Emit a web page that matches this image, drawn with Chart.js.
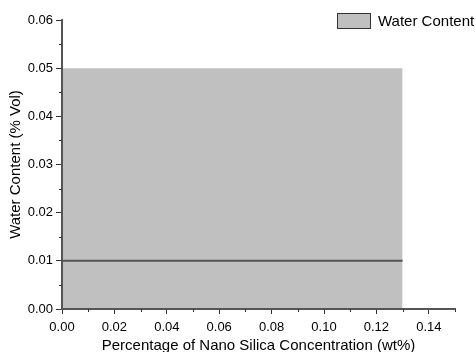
<!DOCTYPE html>
<html>
<head>
<meta charset="utf-8">
<script src="https://cdn.jsdelivr.net/npm/chart.js@4/dist/chart.umd.min.js"></script>
<style>
html,body{margin:0;padding:0;background:#fff;}
#wrap{width:476px;height:352px;position:relative;}
</style>
</head>
<body>
<div id="wrap"><canvas id="c" width="476" height="352"></canvas></div>
<script>
// Data
const concentration = [0.00, 0.13];          // x extent (wt%)
const waterContent = [0.01, 0.01];           // Water Content line (% Vol)
const waterContentBand = [0.05, 0.05];       // upper edge of the shaded area
const xTickValues = [0.00, 0.02, 0.04, 0.06, 0.08, 0.10, 0.12, 0.14];
const yTickValues = [0.00, 0.01, 0.02, 0.03, 0.04, 0.05, 0.06];
const seriesLabel = 'Water Content';
const xTitle = 'Percentage of Nano Silica Concentration (wt%)';
const yTitle = 'Water Content (% Vol)';

const FONT = "'Liberation Sans', Arial, sans-serif";

const minorTicks = {
  id: 'minorTicks',
  afterDraw(chart) {
    const ctx = chart.ctx;
    const xs = chart.scales.x, ys = chart.scales.y;
    ctx.save();
    ctx.strokeStyle = '#333';
    ctx.lineWidth = 1;
    ctx.beginPath();
    for (let i = 0; i < xTickValues.length; i++) {
      const v = xTickValues[i] + 0.01;
      if (v > xs.max + 1e-9) break;
      const px = Math.round(xs.getPixelForValue(v)) + 0.5;
      ctx.moveTo(px, xs.top);
      ctx.lineTo(px, xs.top + 3);
    }
    for (let i = 0; i < yTickValues.length; i++) {
      const v = yTickValues[i] + 0.005;
      if (v > ys.max + 1e-9) break;
      const py = Math.round(ys.getPixelForValue(v)) + 0.5;
      ctx.moveTo(ys.right, py);
      ctx.lineTo(ys.right - 3, py);
    }
    ctx.stroke();
    ctx.restore();
  }
};

const customLegend = {
  id: 'customLegend',
  afterDraw(chart) {
    const ctx = chart.ctx;
    ctx.save();
    ctx.fillStyle = '#c0c0c0';
    ctx.fillRect(337, 13, 34, 16);
    ctx.strokeStyle = '#333';
    ctx.lineWidth = 1;
    ctx.strokeRect(337.5, 13.5, 33, 15);
    ctx.fillStyle = '#000';
    ctx.font = '15px ' + FONT;
    ctx.textBaseline = 'middle';
    ctx.textAlign = 'left';
    ctx.fillText(seriesLabel, 378, 21.5);
    ctx.restore();
  }
};

new Chart(document.getElementById('c'), {
  type: 'line',
  data: {
    datasets: [
      {
        label: seriesLabel,
        data: concentration.map((x, i) => ({x, y: waterContent[i]})),
        borderColor: '#555555',
        borderWidth: 2,
        pointRadius: 0,
        fill: false,
        tension: 0
      },
      {
        label: seriesLabel + ' area',
        data: concentration.map((x, i) => ({x, y: waterContentBand[i]})),
        borderWidth: 0,
        borderColor: 'rgba(0,0,0,0)',
        backgroundColor: '#c0c0c0',
        pointRadius: 0,
        fill: 'origin',
        tension: 0
      }
    ]
  },
  options: {
    responsive: false,
    animation: false,
    devicePixelRatio: 1,
    layout: { padding: { left: 0, right: 21, top: 20, bottom: 0 } },
    plugins: {
      legend: { display: false },
      tooltip: { enabled: false }
    },
    scales: {
      x: {
        type: 'linear',
        min: 0,
        max: 0.15,
        afterFit(s) { s.height = 43; },
        afterBuildTicks(s) { s.ticks = xTickValues.map(v => ({value: v})); },
        ticks: {
          includeBounds: false,
          maxRotation: 0,
          autoSkip: false,
          padding: 6,
          color: '#000',
          font: { family: FONT, size: 13 },
          callback: v => Number(v).toFixed(2)
        },
        grid: {
          display: true,
          z: 1,
          drawOnChartArea: false,
          drawTicks: true,
          tickLength: 5,
          tickColor: '#333',
          tickWidth: 1
        },
        border: { display: true, color: '#555', width: 2, z: 1 },
        title: {
          display: true,
          text: xTitle,
          color: '#000',
          font: { family: FONT, size: 15, lineHeight: 1 },
          padding: { top: 0, bottom: -1 }
        }
      },
      y: {
        type: 'linear',
        min: 0,
        max: 0.06,
        afterFit(s) { s.width = 62; },
        afterBuildTicks(s) { s.ticks = yTickValues.map(v => ({value: v})); },
        ticks: {
          padding: 3,
          color: '#000',
          font: { family: FONT, size: 13 },
          callback: v => Number(v).toFixed(2)
        },
        grid: {
          display: true,
          z: 1,
          drawOnChartArea: false,
          drawTicks: true,
          tickLength: 6,
          tickColor: '#333',
          tickWidth: 1
        },
        border: { display: true, color: '#555', width: 2, z: 1 },
        title: {
          display: true,
          text: yTitle,
          color: '#000',
          font: { family: FONT, size: 15, lineHeight: 1.2 },
          padding: { top: 7, bottom: 0 }
        }
      }
    }
  },
  plugins: [minorTicks, customLegend]
});
</script>
</body>
</html>
